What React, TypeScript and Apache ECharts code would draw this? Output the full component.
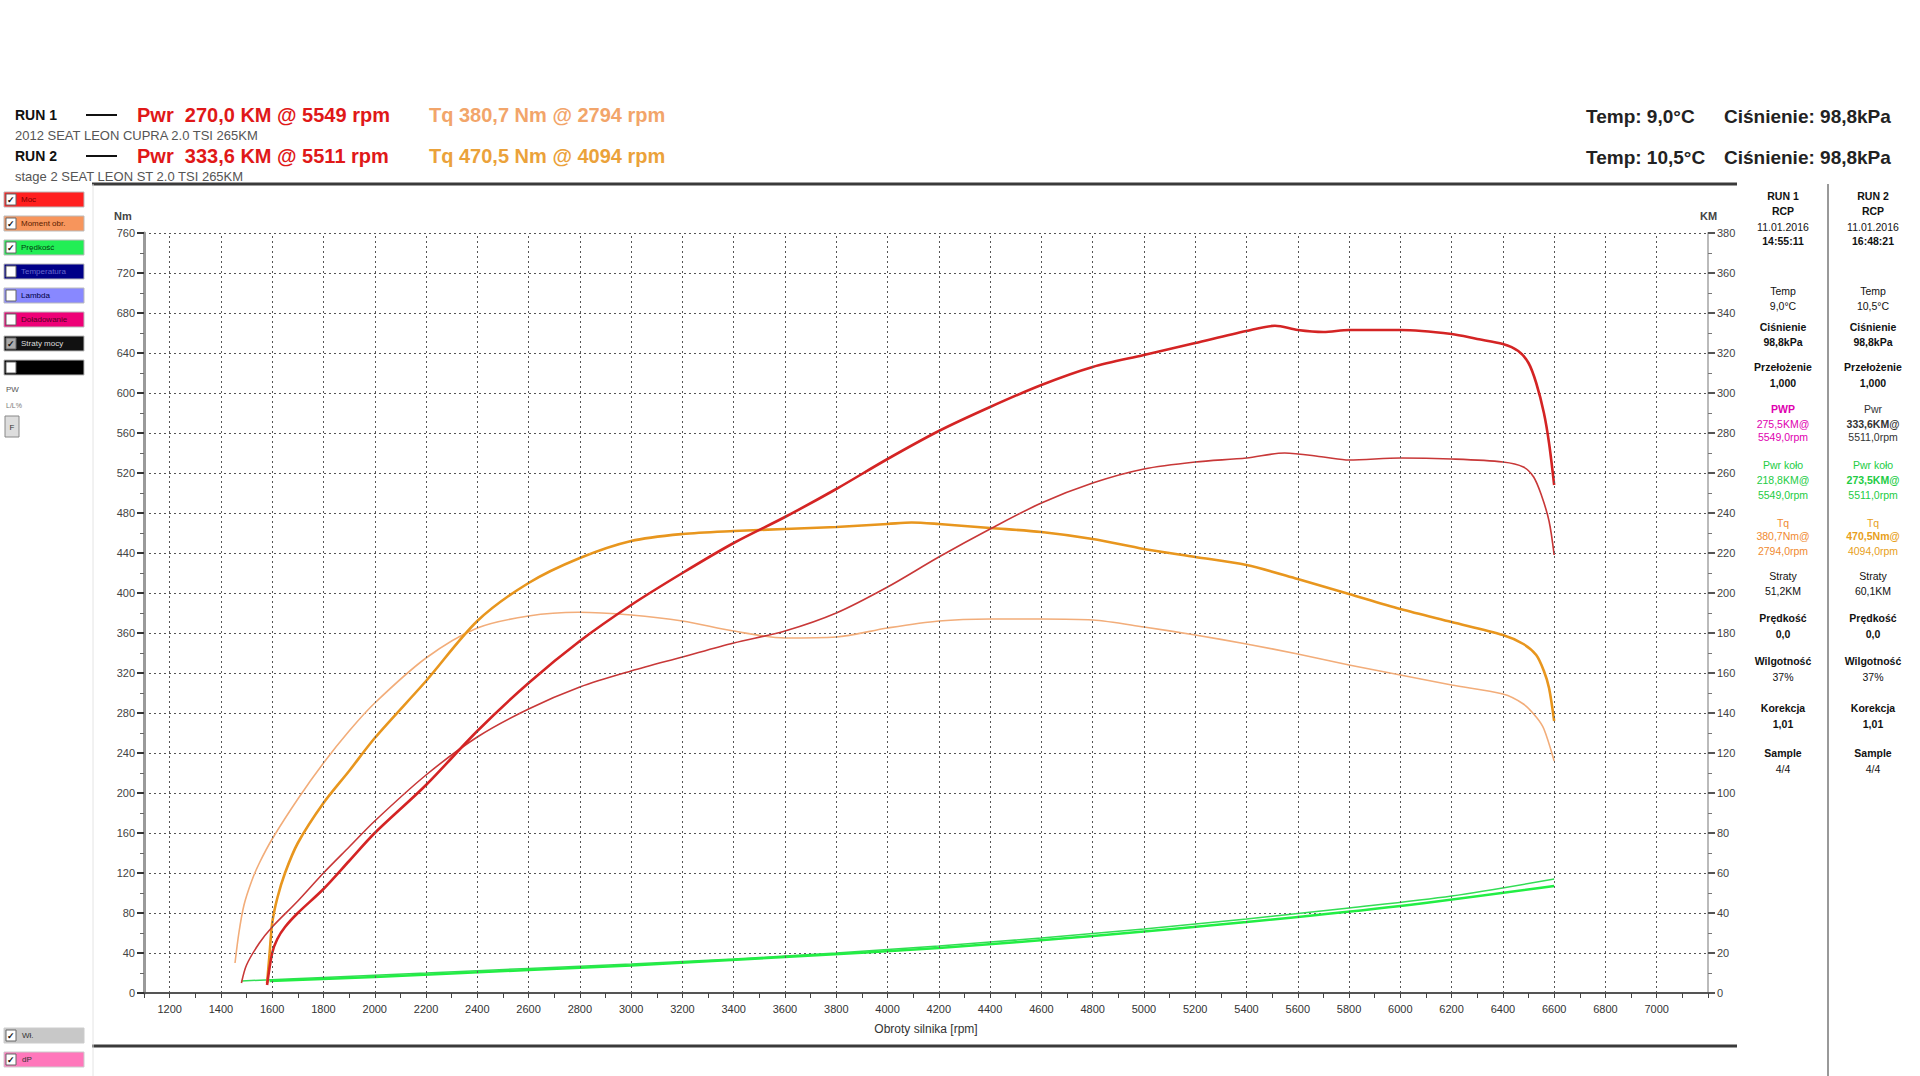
import React, { useEffect, useRef } from 'react';
import * as echarts from 'echarts';

// ---------- data ----------
const xLabelTicks = [1200, 1400, 1600, 1800, 2000, 2200, 2400, 2600, 2800, 3000, 3200, 3400, 3600, 3800, 4000, 4200, 4400, 4600, 4800, 5000, 5200, 5400, 5600, 5800, 6000, 6200, 6400, 6600, 6800, 7000];

const run1Pwr: [number, number][] = [
  [1480, 5], [1500, 14], [1550, 25], [1600, 33], [1700, 46], [1800, 60], [1900, 73], [2000, 86], [2200, 109], [2400, 128], [2600, 142], [2800, 153], [3000, 161], [3200, 168], [3400, 175], [3600, 181], [3800, 190], [4000, 203], [4200, 218], [4400, 232], [4600, 245], [4800, 255], [5000, 262], [5200, 265.5], [5400, 267.5], [5549, 270.0], [5700, 268], [5800, 266.5], [6000, 267.5], [6200, 267], [6400, 265.5], [6480, 263], [6520, 258], [6550, 249], [6580, 236], [6600, 219],
];
const run2Pwr: [number, number][] = [
  [1580, 4], [1600, 20], [1620, 27], [1650, 33], [1700, 40], [1800, 52], [1900, 66], [2000, 80], [2200, 104], [2400, 131], [2600, 155], [2800, 176], [3000, 194], [3200, 210], [3400, 225], [3600, 238], [3800, 252], [4000, 267], [4200, 281], [4400, 293], [4600, 304], [4800, 313], [5000, 319], [5200, 325], [5400, 331], [5511, 333.6], [5600, 331.5], [5700, 330.5], [5800, 331.5], [6000, 331.5], [6200, 329.5], [6300, 327], [6400, 324.5], [6460, 321], [6500, 315], [6530, 305], [6560, 290], [6580, 275], [6600, 254],
];
const run1Tq: [number, number][] = [
  [1455, 30], [1470, 60], [1490, 88], [1520, 112], [1550, 130], [1600, 154], [1700, 194], [1800, 230], [1900, 262], [2000, 290], [2200, 335], [2400, 365], [2600, 377], [2794, 380.7], [3000, 378], [3200, 372], [3400, 362], [3600, 355], [3800, 356], [4000, 365], [4200, 372], [4400, 374], [4600, 374], [4800, 373], [5000, 366], [5200, 358], [5400, 349], [5600, 339], [5800, 328], [6000, 318], [6200, 308], [6400, 299], [6480, 289], [6530, 276], [6560, 264], [6600, 232],
];
const run2Tq: [number, number][] = [
  [1580, 10], [1590, 40], [1600, 70], [1620, 95], [1650, 120], [1700, 150], [1800, 190], [1900, 222], [2000, 255], [2200, 312], [2400, 372], [2600, 410], [2800, 435], [3000, 452], [3200, 459], [3400, 462], [3600, 464], [3800, 466], [4000, 469], [4094, 470.5], [4200, 469], [4400, 465], [4600, 461], [4800, 454], [5000, 444], [5200, 436], [5400, 428], [5600, 414], [5800, 399], [6000, 384], [6200, 371], [6400, 358], [6480, 349], [6530, 338], [6560, 322], [6580, 305], [6600, 272],
];
const run1Green: [number, number][] = [
  [1480, 6], [1800, 7.8], [2200, 10], [2600, 12.3], [3000, 14.5], [3400, 17], [3800, 20], [4200, 23.5], [4600, 27.5], [5000, 32], [5400, 37], [5800, 42.5], [6200, 48.5], [6600, 57],
];
const run2Green: [number, number][] = [
  [1590, 6], [2000, 8], [2600, 11.5], [3000, 13.8], [3600, 18], [4200, 22.5], [4800, 28.5], [5400, 35.5], [6000, 43.5], [6600, 53.5],
];

const headerRows = [
  { run: 'RUN 1', desc: '2012 SEAT LEON CUPRA 2.0 TSI 265KM', pwr: 'Pwr  270,0 KM @ 5549 rpm', tq: 'Tq 380,7 Nm @ 2794 rpm', tqColor: '#f2a56a', temp: 'Temp: 9,0°C', press: 'Ciśnienie: 98,8kPa' },
  { run: 'RUN 2', desc: 'stage 2 SEAT LEON ST 2.0 TSI 265KM', pwr: 'Pwr  333,6 KM @ 5511 rpm', tq: 'Tq 470,5 Nm @ 4094 rpm', tqColor: '#eba23a', temp: 'Temp: 10,5°C', press: 'Ciśnienie: 98,8kPa' },
];

const legendItems = [
  { label: 'Moc', color: '#ff1f1f', text: '#7a0000', checked: true },
  { label: 'Moment obr.', color: '#f7955c', text: '#5a2000', checked: true },
  { label: 'Prędkość', color: '#22ee55', text: '#004010', checked: true },
  { label: 'Temperatura', color: '#000088', text: '#6666cc', checked: false },
  { label: 'Lambda', color: '#8888ff', text: '#000044', checked: false },
  { label: 'Doładowanie', color: '#ee0077', text: '#550022', checked: false },
  { label: 'Straty mocy', color: '#111111', text: '#dddddd', checked: true },
  { label: '', color: '#000000', text: '#ffffff', checked: false },
];

const panelCol1 = [
  ['RUN 1', '#111', true], ['RCP', '#111', true], ['11.01.2016', '#111', false], ['14:55:11', '#111', true],
  ['Temp', '#111', false], ['9,0°C', '#111', false], ['Ciśnienie', '#111', true], ['98,8kPa', '#111', true],
  ['Przełożenie', '#111', true], ['1,000', '#111', true],
  ['PWP', '#e000b0', true], ['275,5KM@', '#e000b0', false], ['5549,0rpm', '#e000b0', false],
  ['Pwr koło', '#22cc44', false], ['218,8KM@', '#22cc44', false], ['5549,0rpm', '#22cc44', false],
  ['Tq', '#f08a30', false], ['380,7Nm@', '#f08a30', false], ['2794,0rpm', '#f08a30', false],
  ['Straty', '#111', false], ['51,2KM', '#111', false], ['Prędkość', '#111', true], ['0,0', '#111', true],
  ['Wilgotność', '#111', true], ['37%', '#111', false], ['Korekcja', '#111', true], ['1,01', '#111', true],
  ['Sample', '#111', true], ['4/4', '#111', false],
];
const panelCol2 = [
  ['RUN 2', '#111', true], ['RCP', '#111', true], ['11.01.2016', '#111', false], ['16:48:21', '#111', true],
  ['Temp', '#111', false], ['10,5°C', '#111', false], ['Ciśnienie', '#111', true], ['98,8kPa', '#111', true],
  ['Przełożenie', '#111', true], ['1,000', '#111', true],
  ['Pwr', '#333', false], ['333,6KM@', '#333', true], ['5511,0rpm', '#333', false],
  ['Pwr koło', '#22cc44', false], ['273,5KM@', '#22cc44', true], ['5511,0rpm', '#22cc44', false],
  ['Tq', '#e8a020', false], ['470,5Nm@', '#e8a020', true], ['4094,0rpm', '#e8a020', false],
  ['Straty', '#111', false], ['60,1KM', '#111', false], ['Prędkość', '#111', true], ['0,0', '#111', true],
  ['Wilgotność', '#111', true], ['37%', '#111', false], ['Korekcja', '#111', true], ['1,01', '#111', true],
  ['Sample', '#111', true], ['4/4', '#111', false],
];
const panelY = [196, 211, 227, 241, 291, 306, 327, 342, 367, 383, 409, 424, 437, 465, 480, 495, 523, 536, 551, 576, 591, 618, 634, 661, 677, 708, 724, 753, 769];

const FONT = '"Liberation Sans", Arial, sans-serif';

function txt(x: number, y: number, text: string, size: number, fill: string, weight = 'normal', align = 'left') {
  return {
    type: 'text', x, y, silent: true,
    style: { text, fill, fontSize: size, fontWeight: weight, fontFamily: FONT, textAlign: align, textVerticalAlign: 'middle' },
  };
}

export default function App() {
  const ref = useRef<HTMLDivElement>(null);

  useEffect(() => {
    if (!ref.current) return;
    const chart = echarts.init(ref.current, null, { renderer: 'svg' });

    const graphics: any[] = [];
    // header
    headerRows.forEach((r, i) => {
      const y = 115 + i * 41;
      graphics.push(txt(15, y, r.run, 14, '#111', 'bold'));
      graphics.push({ type: 'line', silent: true, shape: { x1: 86, y1: y, x2: 117, y2: y }, style: { stroke: '#111', lineWidth: 2 } });
      graphics.push(txt(137, y, r.pwr, 20, '#e01818', 'bold'));
      graphics.push(txt(429, y, r.tq, 20, r.tqColor, 'bold'));
      graphics.push(txt(15, y + 20, r.desc, 13, '#555'));
      graphics.push(txt(1586, y + 1, r.temp, 19, '#222', 'bold'));
      graphics.push(txt(1724, y + 1, r.press, 19, '#222', 'bold'));
    });
    // separators
    graphics.push({ type: 'line', silent: true, shape: { x1: 92, y1: 184, x2: 1737, y2: 184 }, style: { stroke: '#3a3a3a', lineWidth: 3 } });
    graphics.push({ type: 'line', silent: true, shape: { x1: 92, y1: 1046, x2: 1737, y2: 1046 }, style: { stroke: '#3a3a3a', lineWidth: 3 } });
    graphics.push({ type: 'line', silent: true, shape: { x1: 93, y1: 184, x2: 93, y2: 1076 }, style: { stroke: '#e4e4e4', lineWidth: 1 } });
    graphics.push({ type: 'line', silent: true, shape: { x1: 1828, y1: 184, x2: 1828, y2: 1076 }, style: { stroke: '#999', lineWidth: 2 } });
    // legend boxes
    legendItems.forEach((it, i) => {
      const y = 192 + i * 24;
      graphics.push({ type: 'rect', silent: true, shape: { x: 4, y, width: 80, height: 15 }, style: { fill: it.color, stroke: '#bbb', lineWidth: 1 } });
      graphics.push({ type: 'rect', silent: true, shape: { x: 6, y: y + 2, width: 10, height: 11 }, style: { fill: i === 6 ? '#aaa' : '#fff', stroke: '#666', lineWidth: 1 } });
      if (it.checked) graphics.push(txt(11, y + 7.5, '✓', 9, '#111', 'bold', 'center'));
      if (it.label) graphics.push(txt(21, y + 7.5, it.label, 8, it.text));
    });
    graphics.push(txt(6, 389, 'PW', 8, '#555'));
    graphics.push(txt(6, 405, 'L/L%', 7, '#777'));
    graphics.push({ type: 'rect', silent: true, shape: { x: 5, y: 416, width: 14, height: 21 }, style: { fill: '#ddd', stroke: '#888', lineWidth: 1 } });
    graphics.push(txt(12, 427, 'F', 8, '#333', 'normal', 'center'));
    // bottom-left boxes
    [['Wł.', '#c8c8c8'], ['dP', '#ff77bb']].forEach((b, i) => {
      const y = 1028 + i * 24;
      graphics.push({ type: 'rect', silent: true, shape: { x: 4, y, width: 80, height: 15 }, style: { fill: b[1], stroke: '#ccc', lineWidth: 1 } });
      graphics.push({ type: 'rect', silent: true, shape: { x: 6, y: y + 2, width: 10, height: 11 }, style: { fill: '#fff', stroke: '#666', lineWidth: 1 } });
      graphics.push(txt(11, y + 7.5, '✓', 9, '#111', 'bold', 'center'));
      graphics.push(txt(22, y + 7.5, b[0], 8, '#333'));
    });
    // axis units
    graphics.push(txt(114, 216, 'Nm', 11, '#444', 'bold'));
    graphics.push(txt(1700, 216, 'KM', 11, '#444', 'bold'));
    // right panel
    panelCol1.forEach((p, i) => graphics.push(txt(1783, panelY[i], p[0] as string, 10.5, p[1] as string, p[2] ? 'bold' : 'normal', 'center')));
    panelCol2.forEach((p, i) => graphics.push(txt(1873, panelY[i], p[0] as string, 10.5, p[1] as string, p[2] ? 'bold' : 'normal', 'center')));

    const gridDash = { color: '#555', type: [2, 3] as any, width: 1 };

    chart.setOption({
      animation: false,
      backgroundColor: '#ffffff',
      grid: { left: 144, right: 212, top: 233, bottom: 83, containLabel: false },
      xAxis: {
        type: 'value', min: 1100, max: 7200, interval: 100,
        name: 'Obroty silnika [rpm]', nameLocation: 'middle', nameGap: 30,
        nameTextStyle: { fontSize: 12, color: '#333', fontFamily: FONT },
        axisLine: { show: true, onZero: false, lineStyle: { color: '#555', width: 2 } },
        axisTick: { show: true, length: 5, lineStyle: { color: '#444', width: 1 } },
        axisLabel: {
          fontSize: 11, color: '#333', fontFamily: FONT, margin: 10,
          formatter: (v: number) => (xLabelTicks.indexOf(v) >= 0 ? String(v) : ''),
        },
        splitLine: { show: false },
      },
      yAxis: [
        {
          type: 'value', min: 0, max: 760, interval: 40, position: 'left',
          axisLine: { show: true, lineStyle: { color: '#9a9a9a', width: 3 } },
          axisTick: { show: true, length: 7, lineStyle: { color: '#333', width: 2 } },
          minorTick: { show: true, splitNumber: 2, length: 4, lineStyle: { color: '#666', width: 1 } },
          axisLabel: { fontSize: 11, color: '#444', fontFamily: FONT, margin: 9 },
          splitLine: { show: true, lineStyle: gridDash },
        },
        {
          type: 'value', min: 0, max: 380, interval: 20, position: 'right',
          axisLine: { show: true, lineStyle: { color: '#bbbbbb', width: 2 } },
          axisTick: { show: true, length: 7, lineStyle: { color: '#555', width: 2 } },
          minorTick: { show: true, splitNumber: 2, length: 4, lineStyle: { color: '#777', width: 1 } },
          axisLabel: { fontSize: 11, color: '#444', fontFamily: FONT, margin: 9 },
          splitLine: { show: false },
        },
      ],
      graphic: graphics,
      series: [
        {
          name: 'grid', type: 'line', data: [], silent: true,
          markLine: {
            silent: true, symbol: 'none', label: { show: false },
            lineStyle: { color: '#555', type: [2, 3], width: 1 },
            data: xLabelTicks.map((v) => ({ xAxis: v })),
          },
        },
        { name: 'RUN1 Zielony', type: 'line', yAxisIndex: 1, data: run1Green, showSymbol: false, smooth: 0.3, lineStyle: { color: '#33dd55', width: 1.5 } },
        { name: 'RUN2 Zielony', type: 'line', yAxisIndex: 1, data: run2Green, showSymbol: false, smooth: 0.3, lineStyle: { color: '#22ee44', width: 2.5 } },
        { name: 'RUN1 Tq', type: 'line', yAxisIndex: 0, data: run1Tq, showSymbol: false, smooth: 0.3, lineStyle: { color: '#f2ad7a', width: 1.6 } },
        { name: 'RUN2 Tq', type: 'line', yAxisIndex: 0, data: run2Tq, showSymbol: false, smooth: 0.3, lineStyle: { color: '#e8961e', width: 2.6 } },
        { name: 'RUN1 Pwr', type: 'line', yAxisIndex: 1, data: run1Pwr, showSymbol: false, smooth: 0.3, lineStyle: { color: '#c83838', width: 1.6 } },
        { name: 'RUN2 Pwr', type: 'line', yAxisIndex: 1, data: run2Pwr, showSymbol: false, smooth: 0.3, lineStyle: { color: '#d42424', width: 2.6 } },
      ],
    });

    return () => chart.dispose();
  }, []);

  return <div ref={ref} style={{ position: 'absolute', left: 0, top: 0, width: 1920, height: 1076, background: '#fff' }} />;
}
